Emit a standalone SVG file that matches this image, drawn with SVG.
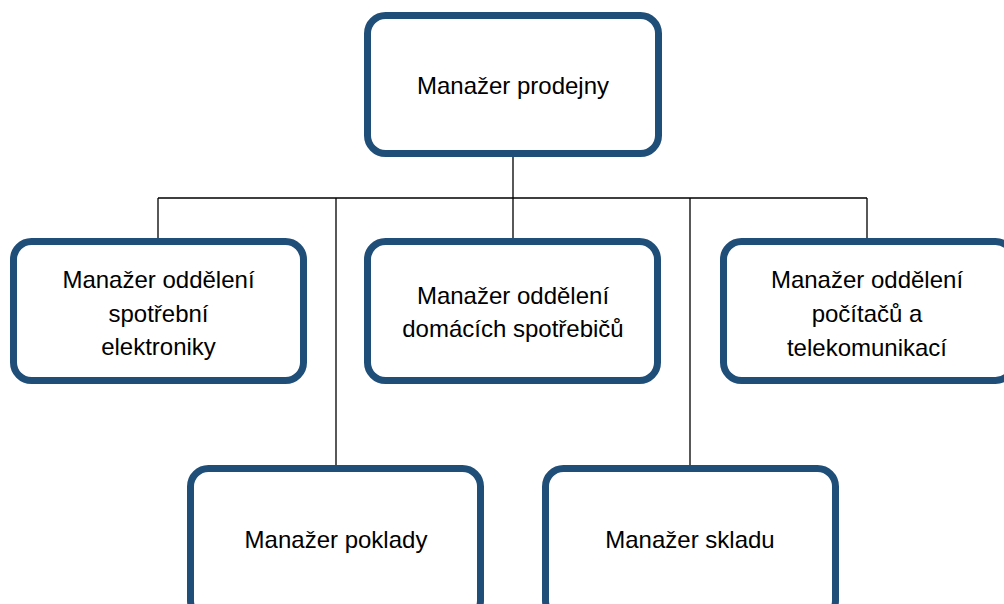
<svg xmlns="http://www.w3.org/2000/svg" width="1004" height="604" viewBox="0 0 1004 604">
<style>
.box{fill:#fff;stroke:#1f4e79;stroke-width:7}
.ln{stroke:#000;stroke-width:1.3;fill:none}
text{font-family:"Liberation Sans",Arial,sans-serif;font-size:24px;fill:#000;text-anchor:middle}
</style>
<rect width="1004" height="604" fill="#fff"/>
<g id="connectors">
<path class="ln" d="M513 157V198M158 198H867M158 198V238M513 198V238M867 198V238M336 198V465M690 198V465"/>
</g>
<g id="n-prodejna">
<rect class="box" x="367.5" y="15.5" width="291" height="138" rx="18"/>
<text x="513" y="94">Manažer prodejny</text>
</g>
<g id="n-elektronika">
<rect class="box" x="13.5" y="241.5" width="290" height="139" rx="18"/>
<text x="158.5" y="288">Manažer oddělení</text>
<text x="158.5" y="322">spotřební</text>
<text x="158.5" y="355">elektroniky</text>
</g>
<g id="n-spotrebice">
<rect class="box" x="367.5" y="241.5" width="290" height="139" rx="18"/>
<text x="513" y="304">Manažer oddělení</text>
<text x="513" y="337">domácích spotřebičů</text>
</g>
<g id="n-pocitace">
<rect class="box" x="723.5" y="241.5" width="290" height="139" rx="18"/>
<text x="867" y="288">Manažer oddělení</text>
<text x="867" y="322">počítačů a</text>
<text x="867" y="356">telekomunikací</text>
</g>
<g id="n-poklada">
<rect class="box" x="190.5" y="468.5" width="290" height="150" rx="18"/>
<text x="336" y="548">Manažer poklady</text>
</g>
<g id="n-sklad">
<rect class="box" x="545.5" y="468.5" width="290" height="150" rx="18"/>
<text x="690" y="548">Manažer skladu</text>
</g>
</svg>
